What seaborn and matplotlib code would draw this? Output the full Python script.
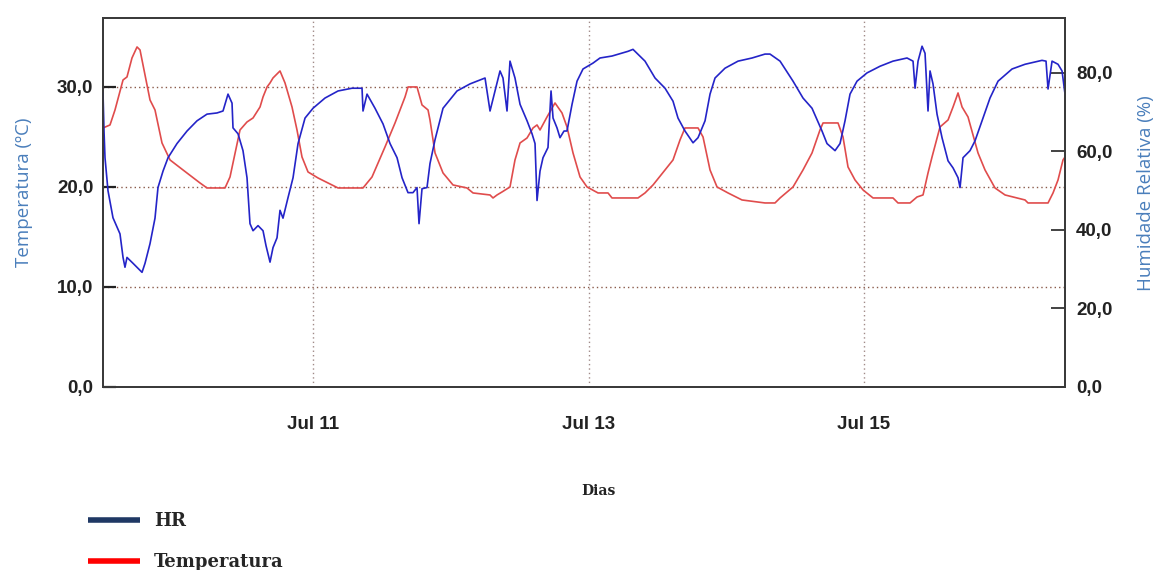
import matplotlib
matplotlib.use("Agg")
import matplotlib.pyplot as plt
import matplotlib.dates as mdates
from matplotlib.ticker import FuncFormatter, FixedLocator
from matplotlib.lines import Line2D
import numpy as np
import pandas as pd
import seaborn as sns

# ---------------- data (hours since 2013-07-09 00:00) ----------------
temp_hours = [11.41, 12.63, 13.50, 14.90, 15.59, 16.46, 17.34, 17.86, 19.60, 20.47,
              21.69, 23.09, 25.35, 28.31, 29.53, 32.67, 33.54, 35.28, 36.50, 37.55,
              38.77, 39.29, 39.99, 40.51, 41.03, 42.25, 43.12, 44.34, 45.21, 46.08,
              47.13, 48.87, 50.61, 52.36, 56.71, 58.28, 60.54, 62.29, 64.03, 64.55,
              66.12, 66.99, 68.04, 68.38, 69.26, 70.65, 72.39, 74.83, 75.88, 78.84,
              79.36, 80.06, 80.93, 82.32, 83.19, 84.07, 85.29, 86.33, 87.03, 87.55,
              88.77, 90.16, 91.38, 92.25, 93.30, 94.52, 95.74, 97.66, 99.40, 100.09,
              104.62, 105.84, 107.24, 109.33, 110.72, 111.94, 112.81, 115.08, 115.95, 117.17,
              118.39, 120.31, 122.74, 126.75, 128.49, 129.37, 131.63, 133.37, 134.94, 136.33,
              136.86, 139.47, 140.34, 141.21, 142.43, 143.83, 145.57, 149.05, 149.92, 152.02,
              153.24, 154.28, 155.15, 155.85, 157.24, 158.64, 159.51, 160.38, 161.08, 162.12,
              163.86, 165.08, 166.82, 168.57, 172.05, 172.57, 176.06, 176.93, 177.80, 178.67,
              179.02]
temp_values = [25.9, 26.2, 27.7, 30.7, 31.0, 32.9, 34.0, 33.7, 28.7, 27.7,
               24.4, 22.7, 21.7, 20.4, 19.9, 19.9, 21.0, 25.7, 26.5, 26.9,
               28.0, 29.0, 30.0, 30.4, 30.9, 31.6, 30.4, 28.0, 25.7, 23.0,
               21.5, 20.9, 20.4, 19.9, 19.9, 21.0, 24.0, 26.4, 29.0, 30.0,
               30.0, 28.2, 27.7, 26.7, 23.4, 21.4, 20.2, 19.9, 19.4, 19.2,
               18.9, 19.2, 19.5, 20.0, 22.7, 24.4, 24.9, 25.9, 26.2, 25.7,
               27.0, 28.4, 27.4, 26.0, 23.4, 21.0, 20.0, 19.4, 19.4, 18.9,
               18.9, 19.4, 20.2, 21.7, 22.7, 24.7, 25.9, 25.9, 25.0, 21.7,
               20.0, 19.4, 18.7, 18.4, 18.4, 18.9, 20.0, 21.7, 23.4, 25.7,
               26.4, 26.4, 25.0, 22.0, 20.7, 19.7, 18.9, 18.9, 18.4, 18.4,
               19.0, 19.2, 21.4, 23.0, 26.0, 26.7, 28.0, 29.4, 28.0, 27.0,
               23.4, 21.7, 19.9, 19.2, 18.7, 18.4, 18.4, 19.4, 20.7, 22.7,
               23.0]

hr_hours = [11.41, 11.59, 11.76, 12.28, 13.15, 14.37, 14.90, 15.24, 15.59, 16.64,
            17.86, 18.21, 18.73, 19.60, 20.47, 20.99, 21.87, 22.74, 24.30, 26.05,
            27.79, 29.53, 31.27, 32.32, 33.19, 33.89, 34.06, 34.93, 35.80, 36.50,
            37.02, 37.55, 38.42, 39.29, 39.81, 40.51, 41.03, 41.73, 42.25, 42.77,
            43.64, 44.52, 45.39, 46.61, 48.00, 50.09, 52.36, 54.79, 56.54, 56.71,
            57.41, 58.80, 60.20, 61.42, 62.64, 63.51, 64.55, 65.42, 66.12, 66.47,
            66.99, 67.86, 68.38, 69.26, 70.65, 73.09, 75.35, 77.97, 78.84, 79.71,
            80.58, 81.10, 81.80, 82.32, 83.19, 84.07, 85.29, 86.16, 86.68, 87.03,
            87.55, 88.07, 88.94, 89.47, 89.82, 90.51, 91.03, 91.73, 92.25, 93.13,
            94.00, 95.04, 96.78, 98.00, 100.09, 102.88, 103.75, 105.84, 107.59, 109.33,
            110.72, 111.59, 112.81, 114.21, 115.08, 116.30, 117.17, 118.04, 119.78, 122.05,
            124.49, 126.75, 127.62, 129.37, 131.63, 133.37, 134.94, 136.68, 137.55, 138.95,
            139.82, 140.69, 141.56, 142.78, 144.52, 146.79, 149.05, 151.49, 152.54, 152.89,
            153.41, 154.11, 154.63, 155.15, 155.50, 156.02, 156.72, 157.59, 158.64, 159.51,
            160.38, 160.73, 161.25, 162.47, 163.34, 164.56, 165.95, 167.35, 169.79, 172.05,
            175.01, 175.71, 176.06, 176.76, 177.80, 178.50, 179.02]
hr_values = [75.0, 65.0, 58.4, 50.0, 43.1, 39.0, 33.0, 30.5, 33.0, 31.5,
             29.7, 29.2, 31.5, 36.5, 43.0, 50.8, 55.0, 58.4, 62.0, 65.2,
             67.8, 69.5, 69.8, 70.3, 74.6, 72.3, 66.0, 64.5, 60.2, 53.3,
             41.6, 39.8, 41.1, 39.8, 36.0, 31.8, 35.5, 38.0, 45.0, 43.0,
             48.2, 53.3, 62.0, 68.5, 71.0, 73.6, 75.4, 76.1, 76.1, 70.3,
             74.6, 71.0, 67.0, 62.0, 58.4, 53.3, 49.5, 49.5, 50.8, 41.6,
             50.5, 50.8, 56.9, 63.0, 71.0, 75.4, 77.2, 78.7, 70.3, 75.4,
             80.5, 78.7, 70.3, 83.0, 78.7, 72.0, 67.8, 64.5, 62.0, 47.5,
             55.0, 58.4, 61.0, 75.4, 68.5, 66.0, 63.5, 65.2, 65.2, 72.0,
             77.9, 81.0, 82.5, 83.8, 84.3, 85.5, 86.0, 83.0, 78.7, 76.1,
             72.8, 68.5, 65.2, 62.2, 63.5, 67.8, 74.6, 78.7, 81.2, 83.0,
             83.8, 84.8, 84.8, 83.0, 77.9, 73.6, 71.0, 65.2, 62.0, 60.2,
             62.0, 67.8, 74.6, 77.9, 80.0, 81.7, 83.0, 83.8, 83.0, 76.1,
             83.0, 86.8, 85.0, 70.3, 80.5, 77.2, 69.5, 63.5, 57.6, 55.8,
             53.3, 50.8, 58.4, 60.2, 62.7, 67.8, 73.6, 77.9, 81.0, 82.2,
             83.2, 83.0, 75.9, 83.0, 82.2, 80.5, 74.6]

temp_ticks = [0, 10, 20, 30]
hr_ticks = [0, 20, 40, 60, 80]
date_ticks = ["2013-07-11", "2013-07-13", "2013-07-15"]
legend_labels = ["HR", "Temperatura"]

base = pd.Timestamp("2013-07-09")
df_t = pd.DataFrame({"time": base + pd.to_timedelta(temp_hours, unit="h"), "Temperatura": temp_values})
df_h = pd.DataFrame({"time": base + pd.to_timedelta(hr_hours, unit="h"), "HR": hr_values})

# ---------------- figure ----------------
sns.set_style("white")
plt.rcParams["font.family"] = ["Liberation Sans", "DejaVu Sans"]

fig = plt.figure(figsize=(11.56, 5.70), dpi=100)
ax = fig.add_axes([0.0891, 0.3211, 0.8322, 0.6474])
ax2 = ax.twinx()

sns.lineplot(data=df_t, x="time", y="Temperatura", ax=ax, color="#e04c4c",
             linewidth=1.2, estimator=None, sort=False, legend=False)
sns.lineplot(data=df_h, x="time", y="HR", ax=ax2, color="#2424c8",
             linewidth=1.2, estimator=None, sort=False, legend=False)

ax.set_xlim(base + pd.Timedelta(hours=11.41), base + pd.Timedelta(hours=179.02))
ax.set_ylim(0, 36.9)
ax2.set_ylim(0, 94)

comma = FuncFormatter(lambda v, p: f"{v:.1f}".replace(".", ","))
ax.yaxis.set_major_locator(FixedLocator(temp_ticks))
ax.yaxis.set_major_formatter(comma)
ax2.yaxis.set_major_locator(FixedLocator(hr_ticks))
ax2.yaxis.set_major_formatter(comma)

ax.xaxis.set_major_locator(FixedLocator([mdates.date2num(pd.Timestamp(d)) for d in date_ticks]))
ax.xaxis.set_major_formatter(mdates.DateFormatter("%b %d"))

# grid
ax.grid(False)
ax2.grid(False)
ax.yaxis.grid(True, linestyle=(0, (1, 2.2)), color="#8a5a4a", linewidth=1.0)
ax.xaxis.grid(True, linestyle=(0, (1, 2.2)), color="#a08a88", linewidth=1.0)
ax.set_axisbelow(True)

for a in (ax, ax2):
    for s in a.spines.values():
        s.set_color("#3a3a3a")
        s.set_linewidth(1.3)

ax.tick_params(axis="y", direction="in", length=9, width=1.6, color="#222222", pad=7,
               labelsize=13.5, labelcolor="#222222")
ax2.tick_params(axis="y", direction="in", length=10, width=1.2, color="#222222", pad=8,
                labelsize=13.5, labelcolor="#222222")
ax.tick_params(axis="x", direction="in", length=8, width=1.2, color="#444444", pad=21,
               labelsize=13.5, labelcolor="#222222")
for lab in ax.get_yticklabels() + ax2.get_yticklabels() + ax.get_xticklabels():
    lab.set_fontweight("bold")

ax.set_ylabel("Temperatura (ºC)", color="#4a7ebb", fontsize=13.5,
              family=["Open Sans", "DejaVu Sans"])
ax.yaxis.set_label_coords(-0.0728, 0.528)
ax2.set_ylabel("Humidade Relativa (%)", color="#4a7ebb", fontsize=13.5,
               family=["Open Sans", "DejaVu Sans"])
ax2.yaxis.set_label_coords(1.075, 0.526)

ax.set_xlabel("Dias", fontsize=10, fontweight="bold", family=["DejaVu Serif"],
              color="#222222")
ax.xaxis.set_label_coords(0.515, -0.262)

handles = [Line2D([], [], color="#1f3864", linewidth=4, solid_capstyle="butt"),
           Line2D([], [], color="#ff0000", linewidth=4, solid_capstyle="butt")]
fig.legend(handles, legend_labels, loc="upper left", bbox_to_anchor=(0.076, 0.102),
           frameon=False, handlelength=2.9, handletextpad=0.75, labelspacing=1.3,
           borderpad=0, borderaxespad=0,
           prop={"family": ["DejaVu Serif"], "weight": "bold", "size": 13})

fig.savefig("out.png", dpi=100)
